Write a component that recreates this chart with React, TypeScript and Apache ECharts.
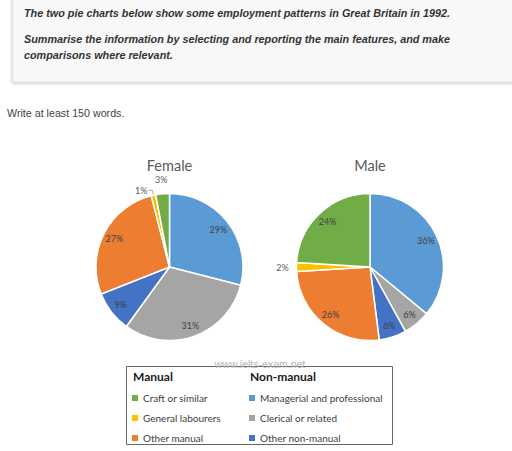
import * as echarts from 'echarts';
import { useEffect, useRef } from 'react';

const categories = [
  'Managerial and professional',
  'Clerical or related',
  'Other non-manual',
  'Other manual',
  'General labourers',
  'Craft or similar',
];
const colors = ['#5B9BD5', '#A5A5A5', '#4472C4', '#ED7D31', '#FFC000', '#70AD47'];
const femaleValues = [29, 31, 9, 27, 1, 3];
const maleValues = [36, 6, 6, 26, 2, 24];
const manualCats = ['Craft or similar', 'General labourers', 'Other manual'];
const nonManualCats = ['Managerial and professional', 'Clerical or related', 'Other non-manual'];
const taskLines = [
  'The two pie charts below show some employment patterns in Great Britain in 1992.',
  'Summarise the information by selecting and reporting the main features, and make',
  'comparisons where relevant.',
];

const R = 73.5;
const labelFont = { fontFamily: 'Lato', fontSize: 9, color: '#404040' };

function mainPie(values: number[], center: number[]) {
  return {
    type: 'pie',
    center,
    radius: R,
    startAngle: 90,
    silent: true,
    avoidLabelOverlap: false,
    itemStyle: { borderColor: '#fff', borderWidth: 1.5 },
    label: { show: false },
    labelLine: { show: false },
    data: categories.map((name, i) => ({
      name,
      value: values[i],
      itemStyle: { color: colors[i] },
      // tiny slices get a leader line
      label: values[i] < 2
        ? { show: true, position: 'outside', formatter: '{c}%', distanceToLabelLine: 1, ...labelFont, color: '#595959' }
        : { show: false },
      labelLine: values[i] < 2
        ? { show: true, length: 5, length2: 4, lineStyle: { color: '#9a9a9a', width: 0.8 } }
        : { show: false },
    })),
  };
}

function labelRing(values: number[], center: number[], radius: number[], test: (v: number) => boolean) {
  return {
    type: 'pie',
    center,
    radius,
    startAngle: 90,
    silent: true,
    avoidLabelOverlap: false,
    itemStyle: { color: 'transparent', borderWidth: 0 },
    labelLine: { show: false },
    label: { position: 'inside', formatter: '{c}%', ...labelFont },
    data: categories.map((name, i) => ({
      name,
      value: values[i],
      label: { show: test(values[i]), color: values[i] < 5 ? '#595959' : '#404040' },
    })),
  };
}

export default function App() {
  const chartRef = useRef<HTMLDivElement>(null);

  useEffect(() => {
    if (!chartRef.current) return;
    const chart = echarts.init(chartRef.current, undefined, { renderer: 'svg' });

    const femaleCenter = [169.5, 267];
    const maleCenter = [370, 267];
    const legendBase = {
      orient: 'vertical',
      top: 392,
      padding: 0,
      itemWidth: 6,
      itemHeight: 6,
      itemGap: 8,
      icon: 'rect',
      selectedMode: false,
      itemStyle: { borderWidth: 0 },
      textStyle: { fontFamily: 'Lato', fontSize: 10, lineHeight: 12, color: '#404040' },
    };

    const option: any = {
      animation: false,
      backgroundColor: '#fff',
      legend: [
        { ...legendBase, data: manualCats, left: 132 },
        { ...legendBase, data: nonManualCats, left: 249 },
      ],
      graphic: [
        {
          type: 'rect',
          shape: { x: 12.5, y: -6, width: 520, height: 88 },
          style: {
            fill: '#f8f8f8',
            stroke: '#e2e2e2',
            lineWidth: 1,
            shadowBlur: 3,
            shadowOffsetY: 1,
            shadowColor: 'rgba(0,0,0,0.25)',
          },
        },
        ...taskLines.map((t, i) => ({
          type: 'text',
          x: 24,
          y: [13, 39, 55][i],
          style: {
            text: t,
            font: 'italic bold 10.8px "Liberation Sans", Arial, sans-serif',
            fill: '#333',
            textVerticalAlign: 'middle',
          },
        })),
        {
          type: 'text',
          x: 7,
          y: 113,
          style: {
            text: 'Write at least 150 words.',
            font: '10.7px "Liberation Sans", Arial, sans-serif',
            fill: '#444',
            textVerticalAlign: 'middle',
          },
        },
        {
          type: 'text',
          x: femaleCenter[0],
          y: 165,
          style: { text: 'Female', font: '14.5px Lato', fill: '#595959', textAlign: 'center', textVerticalAlign: 'middle' },
        },
        {
          type: 'text',
          x: maleCenter[0],
          y: 165,
          style: { text: 'Male', font: '14.5px Lato', fill: '#595959', textAlign: 'center', textVerticalAlign: 'middle' },
        },
        {
          type: 'rect',
          shape: { x: 126.5, y: 366.5, width: 266, height: 78 },
          style: { fill: '#fff', stroke: '#666', lineWidth: 1 },
        },
        {
          type: 'text',
          x: 260,
          y: 364,
          style: {
            text: 'www.ielts-exam.net',
            font: '10.5px "Liberation Sans", Arial, sans-serif',
            fill: '#b4b4b4',
            textAlign: 'center',
            textVerticalAlign: 'middle',
          },
        },
        {
          type: 'text',
          x: 133,
          y: 376,
          style: { text: 'Manual', font: 'bold 12px Lato', fill: '#1a1a1a', textVerticalAlign: 'middle' },
        },
        {
          type: 'text',
          x: 250,
          y: 376,
          style: { text: 'Non-manual', font: 'bold 12px Lato', fill: '#1a1a1a', textVerticalAlign: 'middle' },
        },
      ],
      series: [
        mainPie(femaleValues, femaleCenter),
        mainPie(maleValues, maleCenter),
        labelRing(femaleValues, femaleCenter, [R * 0.6, R], v => v >= 5),
        labelRing(maleValues, maleCenter, [R * 0.6, R], v => v >= 5),
        labelRing(femaleValues, femaleCenter, [R + 6, R + 16], v => v >= 2 && v < 5),
        labelRing(maleValues, maleCenter, [R + 6, R + 16], v => v >= 2 && v < 5),
      ],
    };

    chart.setOption(option);
    return () => {
      chart.dispose();
    };
  }, []);

  return (
    <div
      ref={chartRef}
      style={{ position: 'fixed', left: 0, top: 0, width: 512, height: 451 }}
    />
  );
}
